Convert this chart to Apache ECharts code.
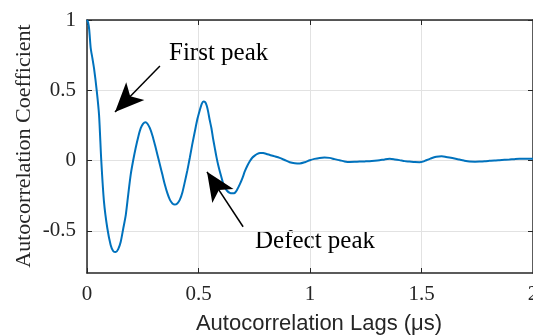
<!DOCTYPE html>
<html>
<head>
<meta charset="utf-8">
<script src="https://cdn.jsdelivr.net/npm/echarts@6/dist/echarts.min.js"></script>
<style>
  html, body { margin: 0; padding: 0; background: #ffffff; }
  #chart { width: 533px; height: 335px; }
</style>
</head>
<body>
<div id="chart"></div>
<script>
// Autocorrelation of the received signal versus lag (µs)
const lags = [
  0, 0.005, 0.010, 0.0166, 0.024, 0.0314, 0.0435, 0.054, 0.064, 0.076, 0.091, 0.106, 0.118, 0.129,
  0.14, 0.151, 0.163, 0.174, 0.185, 0.196, 0.207, 0.218, 0.23, 0.241, 0.252, 0.262,
  0.272, 0.282, 0.294, 0.305, 0.316, 0.327, 0.338, 0.349, 0.36, 0.372, 0.383, 0.394,
  0.405, 0.416, 0.428, 0.439, 0.45, 0.461, 0.472, 0.484, 0.495, 0.506, 0.515, 0.522,
  0.53, 0.537, 0.543, 0.55, 0.558, 0.565, 0.573, 0.58, 0.588, 0.596, 0.603, 0.61,
  0.618, 0.628, 0.64, 0.652, 0.663, 0.674, 0.685, 0.697, 0.708, 0.719, 0.73, 0.741,
  0.752, 0.764, 0.776, 0.79, 0.805, 0.82, 0.842, 0.864, 0.886, 0.909, 0.932, 0.954,
  0.977, 0.999, 1.02, 1.043, 1.065, 1.088, 1.11, 1.133, 1.155, 1.178, 1.2, 1.222,
  1.245, 1.267, 1.29, 1.312, 1.335, 1.357, 1.38, 1.401, 1.425, 1.446, 1.47, 1.491,
  1.51, 1.521, 1.54, 1.566, 1.59, 1.61, 1.625, 1.648, 1.67, 1.69, 1.715, 1.74,
  1.76, 1.783, 1.805, 1.827, 1.849, 1.872, 1.894, 1.917, 1.939, 1.96, 2.0
];
const coefficients = [
  1.0, 0.982, 0.93, 0.80, 0.73, 0.657, 0.50, 0.325, 0.0, -0.29, -0.48, -0.60, -0.645, -0.651,
  -0.63, -0.58, -0.48, -0.386, -0.24, -0.10, 0.0, 0.088, 0.17, 0.23, 0.262, 0.272,
  0.26, 0.23, 0.175, 0.11, 0.04, -0.03, -0.10, -0.17, -0.23, -0.28, -0.305, -0.313,
  -0.305, -0.28, -0.225, -0.15, -0.07, 0.02, 0.115, 0.21, 0.295, 0.36, 0.405, 0.42,
  0.415, 0.39, 0.35, 0.29, 0.23, 0.16, 0.09, 0.03, -0.03, -0.08, -0.12, -0.16,
  -0.19, -0.215, -0.23, -0.233, -0.23, -0.205, -0.17, -0.125, -0.076, -0.037, -0.005, 0.02,
  0.035, 0.048, 0.054, 0.053, 0.047, 0.04, 0.03, 0.019, 0.004, -0.012, -0.019, -0.021,
  -0.012, 0.002, 0.012, 0.019, 0.021, 0.019, 0.01, 0.002, -0.006, -0.01, -0.009, -0.007,
  -0.006, -0.005, -0.002, 0.002, 0.008, 0.012, 0.008, 0.003, -0.004, -0.007, -0.011, -0.012,
  -0.006, 0.002, 0.014, 0.027, 0.03, 0.026, 0.022, 0.015, 0.007, 0.0, -0.007, -0.008,
  -0.007, -0.005, -0.002, 0.001, 0.003, 0.005, 0.007, 0.01, 0.012, 0.012, 0.012
];

const xTicks = [0, 0.5, 1, 1.5, 2];
const yTicks = [-0.5, 0, 0.5, 1];

// Annotation arrows: [tail, head] in (lag, coefficient) units
const firstPeakArrow = [[0.327, 0.673], [0.1256, 0.346]];
const defectPeakArrow = [[0.70, -0.471], [0.538, -0.080]];

const serif = "'Liberation Serif', 'Times New Roman', serif";
const sans = "'Liberation Sans', Arial, Helvetica, sans-serif";
const axisColor = '#262626';
const gridColor = '#e2e2e2';

const chart = echarts.init(document.getElementById('chart'), null, { renderer: 'canvas' });

const tickStyle = { show: true, inside: true, length: 5, lineStyle: { color: axisColor, width: 1 } };
const lineStyleAxis = { show: true, onZero: false, lineStyle: { color: axisColor, width: 1.5 } };

chart.setOption({
  animation: false,
  backgroundColor: '#ffffff',
  grid: { left: 87, right: 0, top: 20, bottom: 62, containLabel: false, outerBoundsMode: 'none' },
  xAxis: [
    {
      type: 'value', position: 'bottom', min: 0, max: 2, interval: 0.5,
      axisLine: lineStyleAxis,
      axisTick: Object.assign({ customValues: xTicks }, tickStyle),
      axisLabel: {
        show: true, customValues: xTicks, margin: 11, color: '#262626',
        fontFamily: serif, fontSize: 21, hideOverlap: false,
        formatter: v => String(v)
      },
      splitLine: { show: true, lineStyle: { color: gridColor, width: 1 } }
    },
    {
      type: 'value', position: 'top', min: 0, max: 2, interval: 0.5,
      axisLine: lineStyleAxis,
      axisTick: Object.assign({ customValues: xTicks }, tickStyle),
      axisLabel: { show: false },
      splitLine: { show: false }
    }
  ],
  yAxis: [
    {
      type: 'value', position: 'left', min: -0.8, max: 1,
      axisLine: lineStyleAxis,
      axisTick: Object.assign({ customValues: yTicks }, tickStyle),
      axisLabel: {
        show: true, customValues: yTicks, margin: 11, color: '#262626',
        fontFamily: serif, fontSize: 21,
        formatter: v => String(v)
      },
      splitLine: { show: true, lineStyle: { color: gridColor, width: 1 } }
    },
    {
      type: 'value', position: 'right', min: -0.8, max: 1,
      axisLine: lineStyleAxis,
      axisTick: Object.assign({ customValues: yTicks }, tickStyle),
      axisLabel: { show: false },
      splitLine: { show: false }
    }
  ],
  series: [
    {
      type: 'line',
      data: lags.map((t, i) => [t, coefficients[i]]),
      showSymbol: false,
      smooth: 0.25,
      lineStyle: { color: '#0072BD', width: 2 },
      z: 3,
      markLine: {
        silent: true,
        symbol: ['none', 'arrow'],
        symbolSize: [19, 29],
        label: { show: false },
        lineStyle: { color: '#000000', width: 1.5, type: 'solid' },
        emphasis: { disabled: true },
        data: [
          [{ coord: firstPeakArrow[0] }, { coord: firstPeakArrow[1] }],
          [{ coord: defectPeakArrow[0] }, { coord: defectPeakArrow[1] }]
        ]
      }
    }
  ],
  graphic: [
    {
      type: 'text', x: 24, y: 146, rotation: Math.PI / 2,
      style: { text: 'Autocorrelation Coefficient', fontFamily: serif, fontSize: 22,
               fill: '#262626', align: 'center', verticalAlign: 'middle' }
    },
    {
      type: 'text', x: 319, y: 324,
      style: { text: 'Autocorrelation Lags (\u03bcs)', fontFamily: sans, fontSize: 22,
               fill: '#262626', align: 'center', verticalAlign: 'middle' }
    },
    {
      type: 'text', x: 169, y: 53,
      style: { text: 'First peak', fontFamily: serif, fontSize: 25,
               fill: '#000000', align: 'left', verticalAlign: 'middle' }
    },
    {
      type: 'text', x: 255, y: 241,
      style: { text: 'Defect peak', fontFamily: serif, fontSize: 25,
               fill: '#000000', align: 'left', verticalAlign: 'middle' }
    }
  ]
});
</script>
</body>
</html>
